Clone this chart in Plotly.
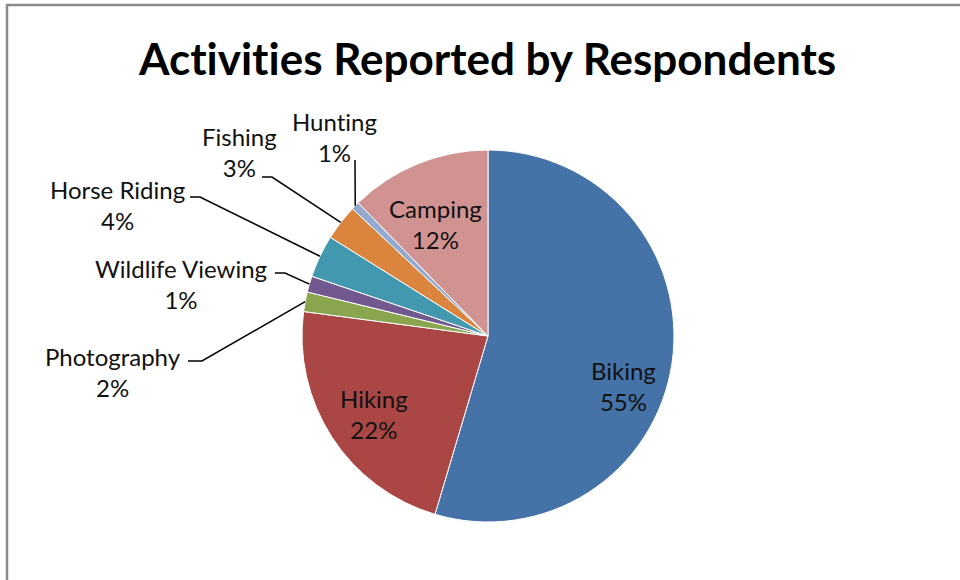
import math
import plotly.graph_objects as go

# ---- data ----
activities = ["Biking", "Hiking", "Photography", "Wildlife Viewing",
              "Horse Riding", "Fishing", "Hunting", "Camping"]
shares = [54.6, 22.5, 1.7, 1.4, 3.7, 3.1, 0.7, 12.3]
colors = ["#4572A7", "#AA4643", "#89A54E", "#71588F",
          "#4198AF", "#DB843D", "#93A9CF", "#D19392"]
title_text = "Activities Reported by Respondents"

# ---- layout (pixels) ----
W, H = 960, 580
CX, CY, R = 488, 336, 186

def px(x):
    return x / W

def py(y):
    return 1 - y / H

# label centres (pixels)
label_pos = {
    "Biking": (623, 386),
    "Hiking": (374, 414),
    "Camping": (435, 224),
    "Hunting": (334, 137),
    "Fishing": (239, 152),
    "Horse Riding": (117, 205),
    "Wildlife Viewing": (181, 284),
    "Photography": (113, 372),
}
# leader line start and elbow (pixels)
leader = {
    "Hunting": [(355, 160)],
    "Fishing": [(262, 177), (272, 177)],
    "Horse Riding": [(190, 197), (200, 197)],
    "Wildlife Viewing": [(275, 273), (285, 273)],
    "Photography": [(188, 361), (202, 361)],
}

total = sum(shares)

fig = go.Figure()
fig.add_trace(go.Pie(
    labels=activities,
    values=shares,
    sort=False,
    direction="clockwise",
    rotation=0,
    marker=dict(colors=colors, line=dict(color="white", width=1)),
    textinfo="none",
    hoverinfo="label+percent",
    showlegend=False,
    domain=dict(x=[px(CX - R), px(CX + R)], y=[py(CY + R), py(CY - R)]),
))

font_family = "Lato, Calibri, sans-serif"
NOLIG = '<span style="font-variant-ligatures:none">{}</span>'
annotations = []
shapes = []
cum = 0.0
for name, v in zip(activities, shares):
    mid = (cum + v / 2) / total * 2 * math.pi
    cum += v
    ex = CX + R * math.sin(mid)
    ey = CY - R * math.cos(mid)
    lx, ly = label_pos[name]
    pct = round(v / total * 100)
    annotations.append(dict(
        x=px(lx), y=py(ly), xref="paper", yref="paper",
        text=NOLIG.format(name) + "<br>" + f"{pct}%", showarrow=False,
        xanchor="center", yanchor="middle", align="center",
        font=dict(family=font_family, size=24, color="#111111"),
    ))
    if name in leader:
        pts = leader[name] + [(ex, ey)]
        path = "M " + " L ".join(f"{px(x)},{py(y)}" for x, y in pts)
        shapes.append(dict(type="path", xref="paper", yref="paper", path=path,
                           line=dict(color="black", width=1.5)))

# outer chart border (top and left visible)
shapes.append(dict(type="path", xref="paper", yref="paper",
                   path=f"M {px(7)},{py(H + 5)} L {px(7)},{py(5)} L {px(W + 5)},{py(5)}",
                   line=dict(color="#8a8a8a", width=2.5)))

annotations.append(dict(
    x=px(487), y=py(58), xref="paper", yref="paper",
    text="<b>" + NOLIG.format(title_text) + "</b>",
    showarrow=False, xanchor="center", yanchor="middle",
    font=dict(family=font_family, size=44, color="black"),
))

fig.update_layout(
    width=W, height=H,
    margin=dict(l=0, r=0, t=0, b=0),
    paper_bgcolor="white", plot_bgcolor="white",
    annotations=annotations, shapes=shapes,
)

fig.write_html("out.html",
               config={"displayModeBar": False},
               post_script="document.body.style.margin='0';document.body.style.overflow='hidden';")
